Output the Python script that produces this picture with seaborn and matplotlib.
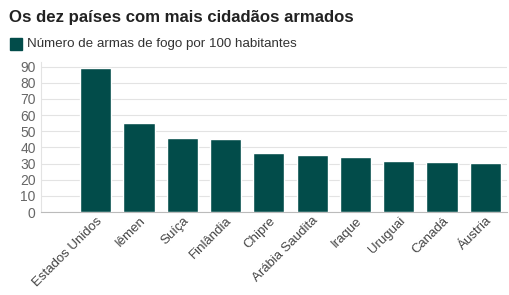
import numpy as np
import pandas as pd
import matplotlib
matplotlib.use("Agg")
import matplotlib.pyplot as plt
import seaborn as sns

paises = ["Estados Unidos", "Iêmen", "Suíça", "Finlândia", "Chipre",
          "Arábia Saudita", "Iraque", "Uruguai", "Canadá", "Áustria"]
armas = [88.8, 54.8, 45.7, 45.3, 36.4, 35.0, 34.2, 31.8, 30.8, 30.4]

df = pd.DataFrame({"pais": paises, "armas": armas})

sns.set_style("white")
plt.rcParams["font.family"] = ["Liberation Sans", "DejaVu Sans"]

cor = "#024c4a"
fig = plt.figure(figsize=(5.09, 2.95), dpi=100)
ax = fig.add_axes([0.081, 0.281, 0.915, 0.51])

sns.barplot(data=df, x="pais", y="armas", color=cor, width=0.72,
            saturation=1, ax=ax, zorder=3)

ax.set_ylim(0, 93)
ax.set_xlim(-1.26, 9.5)
ax.set_yticks(range(0, 91, 10))
ax.yaxis.grid(True, color="#e3e3e3", linewidth=0.8, zorder=0)
ax.set_xlabel("")
ax.set_ylabel("")
for s in ["top", "right"]:
    ax.spines[s].set_visible(False)
ax.spines["left"].set_color("#e3e3e3")
ax.spines["bottom"].set_color("#bbbbbb")
ax.tick_params(axis="y", length=0, labelsize=10, labelcolor="#666666", pad=4)
ax.tick_params(axis="x", length=0, labelsize=9.5, labelcolor="#444444", pad=2)
plt.setp(ax.get_xticklabels(), rotation=45, ha="right", rotation_mode="anchor")

fig.text(0.018, 0.94, "Os dez países com mais cidadãos armados",
         fontsize=12.1, fontweight="bold", color="#222222", va="center")
fig.patches.append(plt.Rectangle((0.02, 0.832), 0.024, 0.04, color=cor,
                                 transform=fig.transFigure, figure=fig))
fig.text(0.054, 0.852, "Número de armas de fogo por 100 habitantes",
         fontsize=9.6, color="#333333", va="center")

fig.savefig("out.png", dpi=100)
